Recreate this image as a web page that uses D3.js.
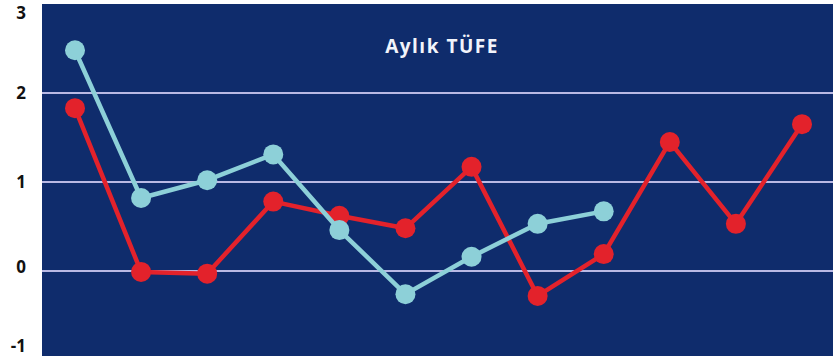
<!DOCTYPE html>
<html>
<head>
<meta charset="utf-8">
<script src="https://cdn.jsdelivr.net/npm/d3@7"></script>
<style>
  body { margin: 0; background: #ffffff; }
  svg { display: block; }
</style>
</head>
<body>
<svg id="chart" width="835" height="358"></svg>
<script>
// monthly values
let months = ["1", "2", "3", "4", "5", "6", "7", "8", "9", "10", "11", "12"]
let redSeries = [1.83, -0.01, -0.03, 0.78, 0.62, 0.48, 1.17, -0.28, 0.19, 1.45, 0.53, 1.65]
let tealSeries = [2.48, 0.82, 1.02, 1.31, 0.46, -0.26, 0.16, 0.53, 0.67]
let yTicks = [3, 2, 1, 0, -1]
let gridValues = [2, 1, 0]
let title = "Aylık TÜFE"

let width = 835, height = 358
let plotLeft = 42, plotRight = 833, plotBottom = 356

let svg = d3.select("#chart")

let xScale = d3.scalePoint()
    .domain(months)
    .range([75, 802])

let yScale = d3.scaleLinear()
    .domain([-1, 3])
    .range([360, 4])

// navy panel
svg.append("rect")
    .attr("x", plotLeft)
    .attr("y", yScale(3))
    .attr("width", plotRight - plotLeft)
    .attr("height", plotBottom - yScale(3))
    .attr("fill", "#0f2c6c")

// grid lines
svg.selectAll(".grid")
    .data(gridValues)
    .join("line")
    .attr("class", "grid")
    .attr("x1", plotLeft)
    .attr("x2", plotRight)
    .attr("y1", d => yScale(d))
    .attr("y2", d => yScale(d))
    .attr("stroke", "#b9b9e4")
    .attr("stroke-width", 2)

// y labels (ends pulled inside so they stay on the page)
svg.selectAll(".ylab")
    .data(yTicks)
    .join("text")
    .attr("class", "ylab")
    .attr("x", 26)
    .attr("y", d => Math.min(346, Math.max(13, yScale(d) - (d === 0 ? 4 : 0))))
    .attr("dy", "0.35em")
    .attr("text-anchor", "end")
    .style("font-family", "'Open Sans', sans-serif")
    .style("font-weight", "bold")
    .style("font-size", "17px")
    .attr("fill", "#111")
    .text(d => d)

// title
svg.append("text")
    .attr("x", 442)
    .attr("y", 53)
    .attr("text-anchor", "middle")
    .style("font-family", "'Open Sans', sans-serif")
    .style("font-weight", "bold")
    .style("font-size", "19px")
    .style("letter-spacing", "1.5px")
    .attr("fill", "#f2f4fb")
    .text(title)

let line = d3.line()
    .x((d, i) => xScale(months[i]))
    .y(d => yScale(d))

function drawSeries(values, color, cls) {
    svg.append("path")
        .datum(values)
        .attr("d", line)
        .attr("fill", "none")
        .attr("stroke", color)
        .attr("stroke-width", 4.5)
        .attr("stroke-linejoin", "round")

    svg.selectAll("." + cls)
        .data(values)
        .join("circle")
        .attr("class", cls)
        .attr("cx", (d, i) => xScale(months[i]))
        .attr("cy", d => yScale(d))
        .attr("r", 10)
        .attr("fill", color)
}

drawSeries(redSeries, "#e3222b", "red-dot")
drawSeries(tealSeries, "#8dd0d8", "teal-dot")
</script>
</body>
</html>
